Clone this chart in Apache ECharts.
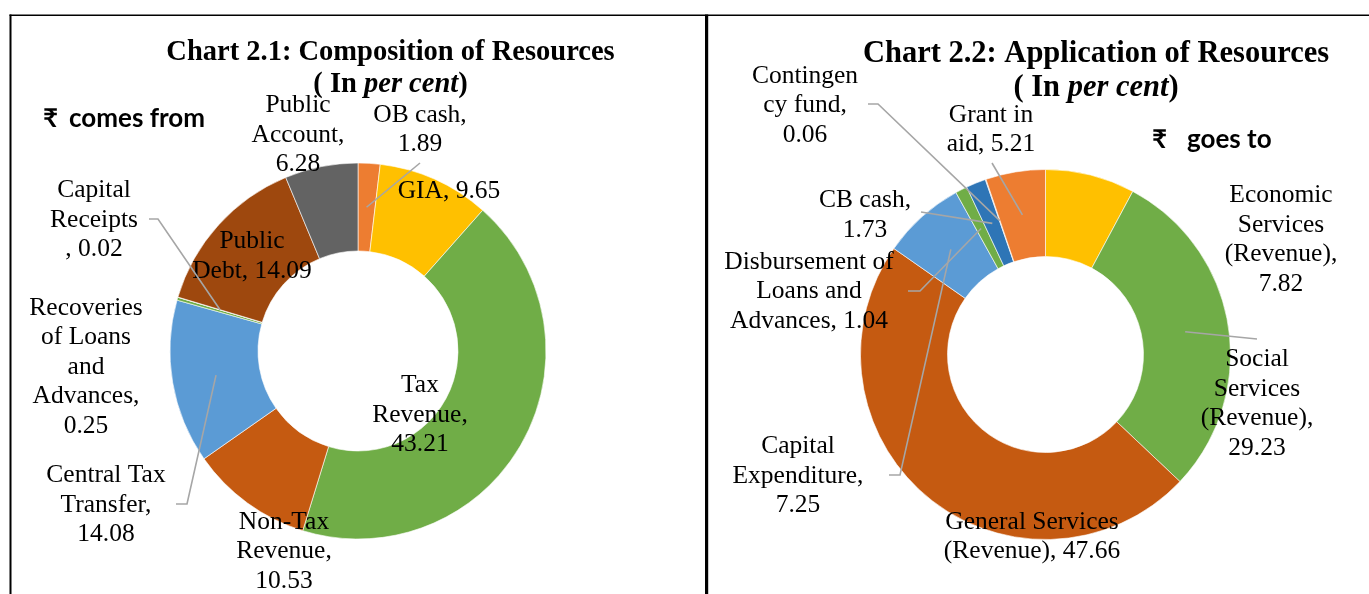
<!DOCTYPE html>
<html><head><meta charset="utf-8">
<script src="https://cdn.jsdelivr.net/npm/echarts@6/dist/echarts.min.js"></script>
<style>html,body{margin:0;padding:0;background:#fff}#c{width:1369px;height:594px}</style>
</head><body><div id="c"></div>
<script>
// ---- data: Chart 2.1 (sources) ----
const srcNames = ['OB cash', 'GIA', 'Tax Revenue', 'Non-Tax Revenue', 'Central Tax Transfer',
  'Recoveries of Loans and Advances', 'Capital Receipts', 'Public Debt', 'Public Account'];
const srcValues = [1.89, 9.65, 43.21, 10.53, 14.08, 0.25, 0.02, 14.09, 6.28];
const srcLabels = ['OB cash,\n1.89', 'GIA, 9.65', 'Tax\nRevenue,\n43.21', 'Non-Tax\nRevenue,\n10.53',
  'Central Tax\nTransfer,\n14.08', 'Recoveries\nof Loans\nand\nAdvances,\n0.25', 'Capital\nReceipts\n, 0.02',
  'Public\nDebt, 14.09', 'Public\nAccount,\n6.28'];
// ---- data: Chart 2.2 (applications) ----
const appNames = ['Economic Services (Revenue)', 'Social Services (Revenue)', 'General Services (Revenue)',
  'Capital Expenditure', 'Disbursement of Loans and Advances', 'CB cash', 'Contingency fund', 'Grant in aid'];
const appValues = [7.82, 29.23, 47.66, 7.25, 1.04, 1.73, 0.06, 5.21];
const appLabels = ['Economic\nServices\n(Revenue),\n7.82', 'Social\nServices\n(Revenue),\n29.23',
  'General Services\n(Revenue), 47.66', 'Capital\nExpenditure,\n7.25', 'Disbursement of\nLoans and\nAdvances, 1.04',
  'CB cash,\n1.73', 'Contingen\ncy fund,\n0.06', 'Grant in\naid, 5.21'];
const titles = ['Chart 2.1: Composition of Resources', 'Chart 2.2: Application of Resources'];
const subTitle = ['( In ', 'per cent', ')'];
const sideNotes = ['comes from', 'goes to'];

// ---- styles / layout ----
const srcColors = ['#ED7D31', '#FFC000', '#70AD47', '#C55A11', '#5B9BD5', '#70AD47', '#A5A5A5', '#9E480E', '#636363'];
const appColors = ['#FFC000', '#70AD47', '#C55A11', '#5B9BD5', '#70AD47', '#2E75B6', '#A5A5A5', '#ED7D31'];
// label block centres and leader-line label-side points
const srcLabelPos = [[420, 130], [449, 191.5], [420, 415], [284, 551.5], [106, 505], [86, 367], [94, 220], [252, 256.5], [298, 135]];
const srcLinePts = {0: [[420, 163]], 4: [[176, 504], [187, 504]], 6: [[149, 219], [158, 219]]};
const appLabelPos = [[1281, 240], [1257, 404], [1032, 537], [798, 476], [809, 291.5], [865, 215.5], [805, 105.5], [991, 130]];
const appLinePts = {1: [[1257, 339]], 3: [[889, 475], [900, 475]], 4: [[908, 291], [920, 291]], 5: [[921, 212]], 6: [[868, 104], [878, 104]], 7: [[992, 163]]};

const chart = echarts.init(document.getElementById('c'), null, {renderer: 'canvas'});
const SERIF = '"Liberation Serif", "Times New Roman", serif';
const SANS = 'Lato, "Noto Sans", "DejaVu Sans", sans-serif';
const labelFont = {fontFamily: SERIF, fontSize: 25.5, lineHeight: 29.5, color: '#000'};

function makeSeries(names, values, labels, colors, center, radius, pos) {
  return {
    type: 'pie', center: center, radius: radius, startAngle: 90, clockwise: true,
    avoidLabelOverlap: false, silent: true, animation: false,
    itemStyle: {borderColor: '#fff', borderWidth: 0.6},
    label: Object.assign({show: true, position: 'outside', formatter: p => labels[p.dataIndex]}, labelFont),
    labelLine: {show: false},
    labelLayout: function (p) {
      return {x: pos[p.dataIndex][0], y: pos[p.dataIndex][1], align: 'center', verticalAlign: 'middle'};
    },
    data: names.map((n, i) => ({name: n, value: values[i], itemStyle: {color: colors[i]}}))
  };
}

const richTitle = size => ({
  b: {fontFamily: SERIF, fontWeight: 'bold', fontSize: size, color: '#000'},
  bi: {fontFamily: SERIF, fontWeight: 'bold', fontStyle: 'italic', fontSize: size, color: '#000'}
});
function titleText(i) {
  return '{b|' + titles[i] + '}\n{b|' + subTitle[0] + '}{bi|' + subTitle[1] + '}{b|' + subTitle[2] + '}';
}

const baseGraphic = [
  {type: 'rect', shape: {x: 9.5, y: 14.5, width: 1360, height: 1.6}, style: {fill: '#000'}, silent: true, z: 100},
  {type: 'rect', shape: {x: 9.5, y: 14.5, width: 2, height: 600}, style: {fill: '#000'}, silent: true, z: 100},
  {type: 'rect', shape: {x: 705, y: 14.5, width: 3.2, height: 600}, style: {fill: '#000'}, silent: true, z: 100},
  {type: 'text', style: {text: '₹', x: 43, y: 119, verticalAlign: 'middle', font: 'bold 26px ' + SANS, fill: '#000'}, z: 100},
  {type: 'text', style: {text: sideNotes[0], x: 69, y: 119, verticalAlign: 'middle', font: 'bold 26px ' + SANS, fill: '#000'}, z: 100},
  {type: 'text', style: {text: '₹', x: 1152, y: 140, verticalAlign: 'middle', font: 'bold 26px ' + SANS, fill: '#000'}, z: 100},
  {type: 'text', style: {text: sideNotes[1], x: 1187, y: 140, verticalAlign: 'middle', font: 'bold 26px ' + SANS, fill: '#000'}, z: 100}
];

chart.setOption({
  backgroundColor: '#fff',
  animation: false,
  title: [
    {text: titleText(0), left: 390.5, top: 37, textAlign: 'center', padding: 0,
      textStyle: {lineHeight: 32, rich: richTitle(28.5)}},
    {text: titleText(1), left: 1096, top: 37, textAlign: 'center', padding: 0,
      textStyle: {lineHeight: 34, rich: richTitle(30.5)}}
  ],
  graphic: baseGraphic,
  series: [
    makeSeries(srcNames, srcValues, srcLabels, srcColors, [358, 351], [100, 188], srcLabelPos),
    makeSeries(appNames, appValues, appLabels, appColors, [1045.5, 354.5], [98, 185], appLabelPos)
  ]
});

// leader lines: from the label to the middle of the slice (taken from the pie's own layout)
function anchorOf(seriesIndex, dataIndex) {
  const lay = chart.getModel().getSeriesByIndex(seriesIndex).getData().getItemLayout(dataIndex);
  const mid = (lay.startAngle + lay.endAngle) / 2;
  const rm = (lay.r + lay.r0) / 2;
  return [lay.cx + rm * Math.cos(mid), lay.cy + rm * Math.sin(mid)];
}
const leaders = [];
[[0, srcLinePts], [1, appLinePts]].forEach(([s, pts]) => {
  Object.keys(pts).forEach(k => {
    leaders.push({
      type: 'polyline', silent: true, z: 90,
      shape: {points: pts[k].concat([anchorOf(s, +k)])},
      style: {stroke: '#A6A6A6', lineWidth: 1.6, fill: null}
    });
  });
});
chart.setOption({graphic: baseGraphic.concat(leaders)});
</script></body></html>
